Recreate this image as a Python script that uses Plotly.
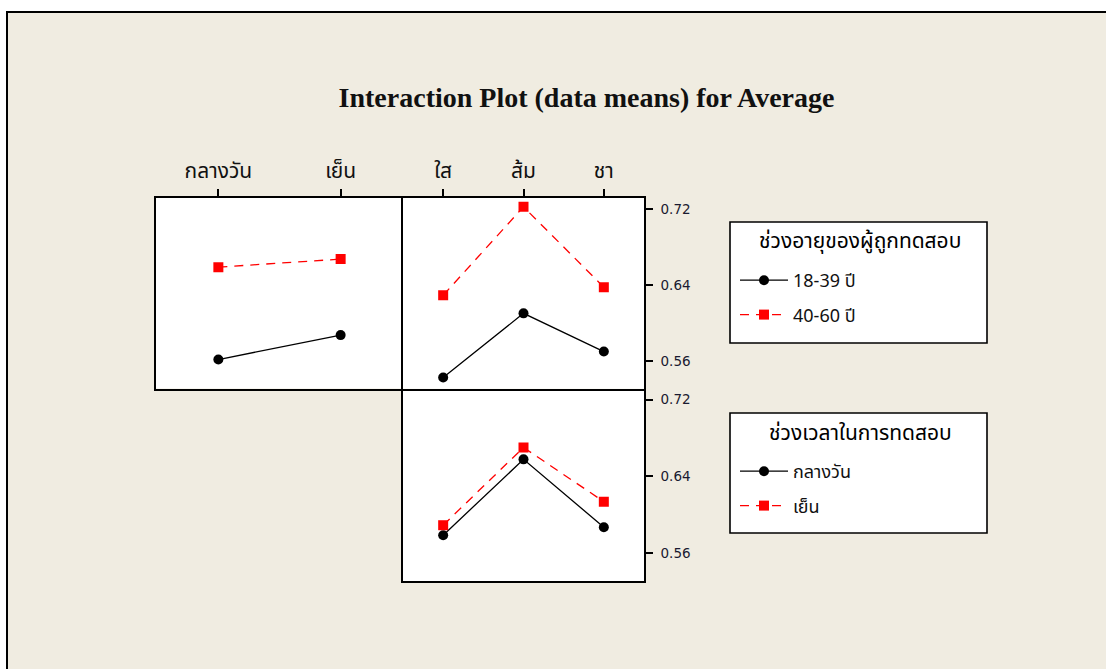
import plotly.graph_objects as go

# ---------------- data ----------------
time_levels = ["กลางวัน", "เย็น"]
drink_levels = ["ใส", "ส้ม", "ชา"]
age_levels = ["18-39 ปี", "40-60 ปี"]

# age group x time of test
age_by_time_1839 = [0.5615, 0.5872]
age_by_time_4060 = [0.6587, 0.6672]
# age group x drink
age_by_drink_1839 = [0.5425, 0.6101, 0.5699]
age_by_drink_4060 = [0.6291, 0.7222, 0.6376]
# time of test x drink
time_by_drink_day = [0.5787, 0.6577, 0.5870]
time_by_drink_eve = [0.5891, 0.6701, 0.6136]

yticks = [0.56, 0.64, 0.72]
title_text = "Interaction Plot (data means) for Average"
legend1_title = "ช่วงอายุของผู้ถูกทดสอบ"
legend2_title = "ช่วงเวลาในการทดสอบ"

# ---------------- layout helpers ----------------
W, H = 1106, 669
def px(x):
    return x / W
def py(y):
    return 1 - y / H

BG = "#F0ECE1"
THAI = "Tahoma, 'Noto Sans Thai', 'Noto Sans', sans-serif"
black_line = dict(color="black", width=1.3)
red_line = dict(color="#FF0000", width=1.3, dash="9px,7px")
black_marker = dict(symbol="circle", size=10, color="black")
red_marker = dict(symbol="square", size=10, color="#FF0000")

fig = go.Figure()

# top-left: age x time
fig.add_trace(go.Scatter(x=time_levels, y=age_by_time_1839, mode="lines+markers",
                         line=black_line, marker=black_marker, name=age_levels[0],
                         legend="legend", legendgroup="a1", showlegend=True,
                         xaxis="x", yaxis="y"))
fig.add_trace(go.Scatter(x=time_levels, y=age_by_time_4060, mode="lines+markers",
                         line=red_line, marker=red_marker, name=age_levels[1],
                         legend="legend", legendgroup="a2", showlegend=True,
                         xaxis="x", yaxis="y"))
# top-right: age x drink
fig.add_trace(go.Scatter(x=drink_levels, y=age_by_drink_1839, mode="lines+markers",
                         line=black_line, marker=black_marker, name=age_levels[0],
                         legend="legend", legendgroup="a1", showlegend=False,
                         xaxis="x2", yaxis="y2"))
fig.add_trace(go.Scatter(x=drink_levels, y=age_by_drink_4060, mode="lines+markers",
                         line=red_line, marker=red_marker, name=age_levels[1],
                         legend="legend", legendgroup="a2", showlegend=False,
                         xaxis="x2", yaxis="y2"))
# bottom-right: time x drink
fig.add_trace(go.Scatter(x=drink_levels, y=time_by_drink_day, mode="lines+markers",
                         line=black_line, marker=black_marker, name=time_levels[0],
                         legend="legend2", legendgroup="t1", showlegend=True,
                         xaxis="x3", yaxis="y3"))
fig.add_trace(go.Scatter(x=drink_levels, y=time_by_drink_eve, mode="lines+markers",
                         line=red_line, marker=red_marker, name=time_levels[1],
                         legend="legend2", legendgroup="t2", showlegend=True,
                         xaxis="x3", yaxis="y3"))

yr = [0.531, 0.7315]
line_common = dict(showline=True, linecolor="black", linewidth=1.6,
                   showgrid=False, zeroline=False, fixedrange=True)
xfont = dict(family=THAI, size=21, color="#111")
yfont = dict(family="DejaVu Sans", size=13.5, color="#1a1a30")

legend_common = dict(xanchor="left", yanchor="top", bgcolor="rgba(0,0,0,0)",
                     borderwidth=0, tracegroupgap=8, traceorder="grouped",
                     itemwidth=48, font=dict(family=THAI, size=18, color="#111"))

fig.update_layout(
    width=W, height=H,
    margin=dict(l=0, r=0, t=0, b=0),
    paper_bgcolor=BG, plot_bgcolor="white",
    title=dict(text="<b>" + title_text + "</b>", x=px(586.5), y=py(97),
               xanchor="center", yanchor="middle", xref="paper", yref="paper",
               font=dict(family="Liberation Serif", size=28, color="#111")),
    xaxis=dict(domain=[px(156), px(403)], anchor="y", side="top", type="category",
               range=[-0.51, 1.51], ticks="outside", ticklen=7, tickwidth=1.6,
               tickcolor="black", tickfont=xfont, ticklabelstandoff=3,
               mirror=True, **line_common),
    yaxis=dict(domain=[py(388.5), py(198)], anchor="x", range=yr, ticks="",
               showticklabels=False, mirror=False, **line_common),
    xaxis2=dict(domain=[px(403), px(644)], anchor="y2", side="top", type="category",
                range=[-0.5, 2.5], ticks="outside", ticklen=7, tickwidth=1.6,
                tickcolor="black", tickfont=xfont, ticklabelstandoff=3,
                mirror=True, **line_common),
    yaxis2=dict(domain=[py(388.5), py(198)], anchor="x2", side="right", range=yr,
                tickvals=yticks, tickformat=".2f", ticks="outside", ticklen=7,
                tickwidth=1.6, tickcolor="black", tickfont=yfont,
                ticklabelstandoff=5, mirror=True, **line_common),
    xaxis3=dict(domain=[px(403), px(644)], anchor="y3", type="category",
                range=[-0.5, 2.5], ticks="", showticklabels=False,
                mirror=False, **line_common),
    yaxis3=dict(domain=[py(581), py(388.5)], anchor="x3", side="right", range=yr,
                tickvals=yticks, tickformat=".2f", ticks="outside", ticklen=7,
                tickwidth=1.6, tickcolor="black", tickfont=yfont,
                ticklabelstandoff=5, mirror=True, **line_common),
    legend=dict(x=px(735), y=py(262), **legend_common),
    legend2=dict(x=px(735), y=py(453), **legend_common),
    showlegend=True,
)

title_font = dict(family=THAI, size=21, color="#000")
fig.add_annotation(text=legend1_title, x=px(860), y=py(241), xref="paper", yref="paper",
                   xanchor="center", yanchor="middle", showarrow=False, font=title_font)
fig.add_annotation(text=legend2_title, x=px(860), y=py(433), xref="paper", yref="paper",
                   xanchor="center", yanchor="middle", showarrow=False, font=title_font)

shapes = [
    # white strips outside the frame
    dict(type="rect", xref="paper", yref="paper", x0=0, x1=1, y0=py(11), y1=1,
         fillcolor="white", line=dict(width=0), layer="below"),
    dict(type="rect", xref="paper", yref="paper", x0=0, x1=px(6), y0=0, y1=1,
         fillcolor="white", line=dict(width=0), layer="below"),
    # frame lines
    dict(type="line", xref="paper", yref="paper", x0=px(6), x1=1, y0=py(12), y1=py(12),
         line=dict(color="black", width=2), layer="below"),
    dict(type="line", xref="paper", yref="paper", x0=px(7), x1=px(7), y0=0, y1=py(11),
         line=dict(color="black", width=2), layer="below"),
    # legend boxes
    dict(type="rect", xref="paper", yref="paper", x0=px(730), x1=px(987),
         y0=py(343), y1=py(222), fillcolor="white", line=dict(color="black", width=1.6),
         layer="below"),
    dict(type="rect", xref="paper", yref="paper", x0=px(730), x1=px(987),
         y0=py(533), y1=py(413), fillcolor="white", line=dict(color="black", width=1.6),
         layer="below"),
]
fig.update_layout(shapes=shapes)

fig.write_html("out.html",
               config={"displayModeBar": False},
               post_script="document.body.style.margin='0';"
                           "document.body.style.overflow='hidden';")
